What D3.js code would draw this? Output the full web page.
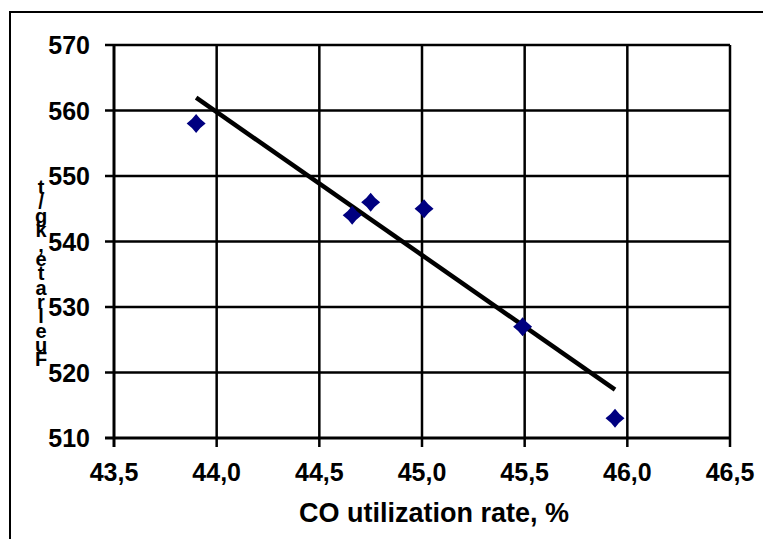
<!DOCTYPE html>
<html>
<head>
<meta charset="utf-8">
<script src="https://cdn.jsdelivr.net/npm/d3@7"></script>
<style>
  body { margin: 0; background: #fff; }
  svg { display: block; font-family: "Liberation Sans", Arial, sans-serif; font-weight: bold; }
</style>
</head>
<body>
<svg id="chart"></svg>
<script>
// data
var coRate = [43.90, 44.66, 44.75, 45.01, 45.49, 45.94];
var fuelRate = [558, 544, 546, 545, 527, 513];
var xTicks = [43.5, 44.0, 44.5, 45.0, 45.5, 46.0, 46.5];
var yTicks = [510, 520, 530, 540, 550, 560, 570];
var xTitle = "CO utilization rate, %";
var yTitle = "Fuel rate, kg/t";

var width = 763, height = 539;
var svg = d3.select("#chart").attr("width", width).attr("height", height);

// outer frame (right and bottom edges fall outside the picture)
svg.append("path")
  .attr("d", "M10," + height + "V12H" + width)
  .attr("fill", "none").attr("stroke", "#000").attr("stroke-width", 2);

var x = d3.scaleLinear().domain([43.5, 46.5]).range([114, 730]);
var y = d3.scaleLinear().domain([510, 570]).range([438, 45]);

// grid
var g = svg.append("g");
g.selectAll("line.h").data(yTicks).enter().append("line")
  .attr("x1", x(43.5) - 9).attr("x2", x(46.5))
  .attr("y1", function (d) { return y(d); }).attr("y2", function (d) { return y(d); })
  .attr("stroke", "#000").attr("stroke-width", function (d) { return d === 510 ? 3 : 2.5; });
g.selectAll("line.v").data(xTicks).enter().append("line")
  .attr("x1", function (d) { return x(d); }).attr("x2", function (d) { return x(d); })
  .attr("y1", y(570)).attr("y2", y(510) + 9)
  .attr("stroke", "#000").attr("stroke-width", function (d) { return d === 43.5 ? 3 : 2.5; });

// tick labels
var fmt = function (d) { return d3.format(".1f")(d).replace(".", ","); };
svg.selectAll("text.xt").data(xTicks).enter().append("text")
  .attr("x", function (d) { return x(d); }).attr("y", 481)
  .attr("text-anchor", "middle").attr("font-size", 25)
  .text(fmt);
svg.selectAll("text.yt").data(yTicks).enter().append("text")
  .attr("x", 90).attr("y", function (d) { return y(d); }).attr("dy", "0.36em")
  .attr("text-anchor", "end").attr("font-size", 25)
  .text(function (d) { return d; });

// axis titles
svg.append("text")
  .attr("x", 434).attr("y", 522)
  .attr("text-anchor", "middle").attr("font-size", 27)
  .text(xTitle);

// y title drawn as stacked characters, bottom to top
var chars = yTitle.replace(/ /g, "").split("");
var step = (359 - 187) / (chars.length - 1);
svg.selectAll("text.yc").data(chars).enter().append("text")
  .attr("x", 41).attr("y", function (d, i) { return 359 - i * step; }).attr("dy", "0.36em")
  .attr("text-anchor", "middle").attr("font-size", 20)
  .text(function (d) { return d; });

// linear trend line
var mx = d3.mean(coRate), my = d3.mean(fuelRate);
var sxy = d3.sum(coRate, function (d, i) { return (d - mx) * (fuelRate[i] - my); });
var sxx = d3.sum(coRate, function (d) { return (d - mx) * (d - mx); });
var slope = sxy / sxx, icpt = my - slope * mx;
var ends = d3.extent(coRate);
svg.append("line")
  .attr("x1", x(ends[0])).attr("y1", y(icpt + slope * ends[0]))
  .attr("x2", x(ends[1])).attr("y2", y(icpt + slope * ends[1]))
  .attr("stroke", "#000").attr("stroke-width", 4.5);

// diamond markers
function diamond(r) {
  var k = r * 0.42;
  return "M0," + (-r) + "Q" + k + "," + (-k) + " " + r + ",0" +
    "Q" + k + "," + k + " 0," + r +
    "Q" + (-k) + "," + k + " " + (-r) + ",0" +
    "Q" + (-k) + "," + (-k) + " 0," + (-r) + "Z";
}
svg.selectAll("path.pt").data(coRate).enter().append("path")
  .attr("d", diamond(9.5))
  .attr("transform", function (d, i) { return "translate(" + x(d) + "," + y(fuelRate[i]) + ")"; })
  .attr("fill", "#000080");
</script>
</body>
</html>
